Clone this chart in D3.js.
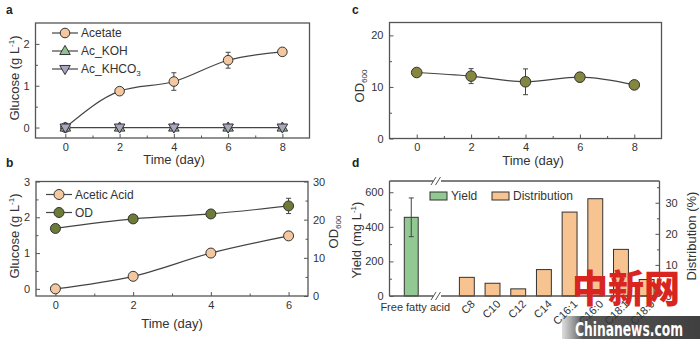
<!DOCTYPE html>
<html>
<head>
<meta charset="utf-8">
<script src="https://cdn.jsdelivr.net/npm/d3@7"></script>
<style>
body { margin: 0; background: #fff; }
svg { font-family: "Liberation Sans", Arial, Helvetica, sans-serif; display: block; }
</style>
</head>
<body>
<div id="chart"></div>
<script>
// panel a: glucose from acetate, 8 days
var daysA = [0, 2, 4, 6, 8];
var acetate = [0, 0.87, 1.1, 1.61, 1.81];
var acetateErr = [0, 0.05, 0.21, 0.19, 0.05];
var acKOH = [0, 0, 0, 0, 0];
var acKHCO3 = [0, 0, 0, 0, 0];

// panel b: acetic acid + OD, 6 days
var daysB = [0, 2, 4, 6];
var aceticAcid = [0, 0.35, 1.0, 1.48];
var aceticErr = [0.02, 0.05, 0.1, 0.1];
var odB = [17.7, 20.2, 21.5, 23.6];
var odBErr = [0.6, 0.5, 0.7, 2.0];

// panel c: OD600 over 8 days
var daysC = [0, 2, 4, 6, 8];
var odC = [12.8, 12.1, 11.0, 11.9, 10.4];
var odCErr = [0.3, 1.45, 2.5, 0.9, 0.3];

// panel d: fatty acid yield and chain distribution
var ffaLabel = ["Free fatty acid"];
var ffaYield = [455];
var ffaErr = [112];
var chains = ["C8", "C10", "C12", "C14", "C16:1", "C16:0", "C18:1", "C18:0"];
var distribution = [6.0, 4.1, 2.3, 8.5, 27.0, 31.3, 15.0, 5.3];

var axisGrey = '#555', lineGrey = '#444', txt = '#333';
var fmt = d3.format('~g');

var svg = d3.select('#chart').append('svg')
    .attr('width', 700)
    .attr('height', 339);

function addAxis(axis, tx, ty) {
    var g = svg.append('g')
        .attr('transform', 'translate(' + tx + ',' + ty + ')')
        .call(axis);
    g.attr('font-family', null).attr('font-size', 11);
    g.select('.domain').remove();
    g.selectAll('line').attr('stroke', axisGrey).attr('stroke-width', 1);
    g.selectAll('text').attr('fill', txt);
    return g;
}

function frame(x0, y0, x1, y1) {
    svg.append('rect')
        .attr('x', x0).attr('y', y0)
        .attr('width', x1 - x0).attr('height', y1 - y0)
        .attr('fill', 'none')
        .attr('stroke', axisGrey)
        .attr('stroke-width', 1.3);
}

function label(t, x, y) {
    svg.append('text').attr('x', x).attr('y', y)
        .attr('font-size', 12).attr('font-weight', 'bold').attr('fill', '#222')
        .text(t);
}

function xTitle(x, y) {
    svg.append('text').attr('x', x).attr('y', y)
        .attr('text-anchor', 'middle').attr('font-size', 13).attr('fill', txt)
        .text('Time (day)');
}

// rotated axis title; parts = [[text, 'super'|'sub'|'reset', dy], ...]
function yTitle(parts, x, y) {
    var t = svg.append('text')
        .attr('transform', 'translate(' + x + ',' + y + ') rotate(-90)')
        .attr('text-anchor', 'middle').attr('font-size', 13).attr('fill', txt);
    parts.forEach(function (p) {
        var s = t.append('tspan').text(p[0]);
        if (p[1] === 'super') s.attr('font-size', 8).attr('dy', -5);
        if (p[1] === 'sub') s.attr('font-size', 8).attr('dy', 3);
        if (p[1] === 'reset') s.attr('dy', p[2]);
    });
}

function errorBars(xs, ys, es, x, y) {
    var g = svg.append('g').attr('stroke', lineGrey).attr('stroke-width', 1);
    xs.forEach(function (d, i) {
        if (!es[i]) return;
        var cx = x(d), lo = y(ys[i] - es[i]), hi = y(ys[i] + es[i]);
        g.append('line').attr('x1', cx).attr('x2', cx).attr('y1', lo).attr('y2', hi);
        g.append('line').attr('x1', cx - 2.5).attr('x2', cx + 2.5).attr('y1', lo).attr('y2', lo);
        g.append('line').attr('x1', cx - 2.5).attr('x2', cx + 2.5).attr('y1', hi).attr('y2', hi);
    });
}

function curve(xs, ys, x, y) {
    var line = d3.line()
        .x(function (d) { return x(d[0]); })
        .y(function (d) { return y(d[1]); })
        .curve(d3.curveMonotoneX);
    svg.append('path')
        .datum(d3.zip(xs, ys))
        .attr('d', line)
        .attr('fill', 'none')
        .attr('stroke', lineGrey)
        .attr('stroke-width', 1.2);
}

function dots(xs, ys, x, y, fill, r) {
    svg.append('g').selectAll('circle')
        .data(d3.zip(xs, ys)).enter().append('circle')
        .attr('cx', function (d) { return x(d[0]); })
        .attr('cy', function (d) { return y(d[1]); })
        .attr('r', r)
        .attr('fill', fill)
        .attr('stroke', '#333')
        .attr('stroke-width', 1);
}

function tris(xs, ys, x, y, fill, down) {
    svg.append('g').selectAll('path')
        .data(d3.zip(xs, ys)).enter().append('path')
        .attr('d', d3.symbol(d3.symbolTriangle, 48))
        .attr('transform', function (d) {
            return 'translate(' + x(d[0]) + ',' + (y(d[1]) + (down ? -0.5 : 0.5)) + ')' + (down ? ' rotate(180)' : '');
        })
        .attr('fill', fill)
        .attr('stroke', '#333')
        .attr('stroke-width', 1);
}

function legendLine(x0, y0, marker, name, sub) {
    svg.append('line').attr('x1', x0).attr('x2', x0 + 26).attr('y1', y0).attr('y2', y0)
        .attr('stroke', lineGrey).attr('stroke-width', 1.2);
    marker(x0 + 13, y0);
    var t = svg.append('text').attr('x', x0 + 29).attr('y', y0).attr('dy', '0.36em')
        .attr('font-size', 12).attr('fill', txt).text(name);
    if (sub) t.append('tspan').attr('font-size', 8).attr('dy', 3).text(sub);
}

var cGlucose = '#f3c8a0', cOD = '#6c7b37', cODc = '#858740';
var cKOH = '#8fc28f', cKHCO3 = '#aaa5c0';
var cYield = '#92c992', cDist = '#f6c391';

/* ---------- a ---------- */
var xa = d3.scaleLinear().domain([-1.1, 9]).range([35.5, 309.5]);
var ya = d3.scaleLinear().domain([-0.25, 2.5]).range([138, 23]);
addAxis(d3.axisBottom(xa).tickValues([1, 3, 5, 7]).tickSize(-2.5).tickFormat(''), 0, 138);
addAxis(d3.axisBottom(xa).tickValues(daysA).tickFormat(fmt).tickSize(-4).tickSizeOuter(0).tickPadding(5), 0, 138);
addAxis(d3.axisLeft(ya).tickValues([0.5, 1.5]).tickSize(-2.5).tickFormat(''), 35.5, 0);
addAxis(d3.axisLeft(ya).tickValues([0, 1, 2]).tickFormat(fmt).tickSize(-4).tickSizeOuter(0).tickPadding(6), 35.5, 0);
frame(35.5, 23, 309.5, 138);

curve(daysA, acKOH, xa, ya);
curve(daysA, acetate, xa, ya);
errorBars(daysA, acetate, acetateErr, xa, ya);
dots(daysA, acetate, xa, ya, cGlucose, 4.8);
tris(daysA, acKOH, xa, ya, cKOH, false);
tris(daysA, acKHCO3, xa, ya, cKHCO3, true);

legendLine(52, 33, function (cx, cy) {
    svg.append('circle').attr('cx', cx).attr('cy', cy).attr('r', 4.8)
        .attr('fill', cGlucose).attr('stroke', '#333');
}, 'Acetate');
legendLine(52, 51, function (cx, cy) {
    tris([0], [0], function () { return cx; }, function () { return cy; }, cKOH, false);
}, 'Ac_KOH');
legendLine(52, 69, function (cx, cy) {
    tris([0], [0], function () { return cx; }, function () { return cy; }, cKHCO3, true);
}, 'Ac_KHCO', '3');

label('a', 6, 14);
xTitle(174, 164);
yTitle([['Glucose (g L'], ['-1', 'super'], [')', 'reset', 5]], 19, 78);

/* ---------- b ---------- */
var xb = d3.scaleLinear().domain([-0.5, 6.5]).range([36, 308]);
var ybL = d3.scaleLinear().domain([-0.2, 3]).range([296, 181.5]);
var ybR = d3.scaleLinear().domain([0, 30]).range([296, 181.5]);
addAxis(d3.axisBottom(xb).tickValues([1, 3, 5]).tickSize(-2.5).tickFormat(''), 0, 296);
addAxis(d3.axisBottom(xb).tickValues(daysB).tickFormat(fmt).tickSize(-4).tickSizeOuter(0).tickPadding(5), 0, 296);
addAxis(d3.axisLeft(ybL).tickValues([0.5, 1.5, 2.5]).tickSize(-2.5).tickFormat(''), 36, 0);
addAxis(d3.axisLeft(ybL).tickValues([0, 1, 2, 3]).tickFormat(fmt).tickSize(-4).tickSizeOuter(0).tickPadding(6), 36, 0);
addAxis(d3.axisRight(ybR).tickValues([5, 15, 25]).tickSize(-2.5).tickFormat(''), 308, 0);
addAxis(d3.axisRight(ybR).tickValues([0, 10, 20, 30]).tickFormat(fmt).tickSize(-4).tickSizeOuter(0).tickPadding(5), 308, 0);
frame(36, 181.5, 308, 296);

curve(daysB, aceticAcid, xb, ybL);
curve(daysB, odB, xb, ybR);
errorBars(daysB, aceticAcid, aceticErr, xb, ybL);
errorBars(daysB, odB, odBErr, xb, ybR);
dots(daysB, aceticAcid, xb, ybL, cGlucose, 5);
dots(daysB, odB, xb, ybR, cOD, 5);

legendLine(46, 194.5, function (cx, cy) {
    svg.append('circle').attr('cx', cx).attr('cy', cy).attr('r', 5)
        .attr('fill', cGlucose).attr('stroke', '#333');
}, 'Acetic Acid');
legendLine(46, 212.5, function (cx, cy) {
    svg.append('circle').attr('cx', cx).attr('cy', cy).attr('r', 5)
        .attr('fill', cOD).attr('stroke', '#333');
}, 'OD');

label('b', 6, 167);
xTitle(172, 328);
yTitle([['Glucose (g L'], ['-1', 'super'], [')', 'reset', 5]], 19, 236);
yTitle([['OD'], ['600', 'sub']], 338, 232);

/* ---------- c ---------- */
var xc = d3.scaleLinear().domain([-1, 9]).range([389.5, 661.5]);
var yc = d3.scaleLinear().domain([0, 22.5]).range([138.5, 22.5]);
addAxis(d3.axisBottom(xc).tickValues([1, 3, 5, 7]).tickSize(-2.5).tickFormat(''), 0, 138.5);
addAxis(d3.axisBottom(xc).tickValues(daysC).tickFormat(fmt).tickSize(-4).tickSizeOuter(0).tickPadding(5), 0, 138.5);
addAxis(d3.axisLeft(yc).tickValues([5, 15]).tickSize(-2.5).tickFormat(''), 389.5, 0);
addAxis(d3.axisLeft(yc).tickValues([0, 10, 20]).tickFormat(fmt).tickSize(-4).tickSizeOuter(0).tickPadding(6), 389.5, 0);
frame(389.5, 22.5, 661.5, 138.5);

curve(daysC, odC, xc, yc);
errorBars(daysC, odC, odCErr, xc, yc);
dots(daysC, odC, xc, yc, cODc, 5.3);

label('c', 352, 14);
xTitle(533, 164.5);
yTitle([['OD'], ['600', 'sub']], 364, 86);

/* ---------- d ---------- */
var xdF = d3.scaleBand().domain(ffaLabel).range([389.5, 433]).paddingInner(0.68).paddingOuter(0.34);
var xdC = d3.scaleBand().domain(chains).range([454, 659.5]).paddingInner(0.42).paddingOuter(0.21);
var ydL = d3.scaleLinear().domain([0, 665]).range([296, 181]);
var ydR = d3.scaleLinear().domain([0, 37]).range([296, 181]);

addAxis(d3.axisLeft(ydL).tickValues([100, 300, 500]).tickSize(-2.5).tickFormat(''), 389.5, 0);
addAxis(d3.axisLeft(ydL).tickValues([0, 200, 400, 600]).tickFormat(fmt).tickSize(-4).tickSizeOuter(0).tickPadding(6), 389.5, 0);
addAxis(d3.axisRight(ydR).tickValues([5, 15, 25, 35]).tickSize(-2.5).tickFormat(''), 659.5, 0);
addAxis(d3.axisRight(ydR).tickValues([0, 10, 20, 30]).tickFormat(fmt).tickSize(-4).tickSizeOuter(0).tickPadding(6), 659.5, 0);

// bars
svg.append('g').selectAll('rect')
    .data(d3.zip(ffaLabel, ffaYield)).enter().append('rect')
    .attr('x', function (d) { return xdF(d[0]); })
    .attr('y', function (d) { return ydL(d[1]); })
    .attr('width', xdF.bandwidth())
    .attr('height', function (d) { return ydL(0) - ydL(d[1]); })
    .attr('fill', cYield).attr('stroke', '#333').attr('stroke-width', 1);
errorBars(ffaLabel, ffaYield, ffaErr, function (d) { return xdF(d) + xdF.bandwidth() / 2; }, ydL);

svg.append('g').selectAll('rect')
    .data(d3.zip(chains, distribution)).enter().append('rect')
    .attr('x', function (d) { return xdC(d[0]); })
    .attr('y', function (d) { return ydR(d[1]); })
    .attr('width', xdC.bandwidth())
    .attr('height', function (d) { return ydR(0) - ydR(d[1]); })
    .attr('fill', cDist).attr('stroke', '#333').attr('stroke-width', 1);

// frame with axis break
var fr = svg.append('g').attr('stroke', axisGrey).attr('stroke-width', 1.3).attr('fill', 'none');
[181, 296].forEach(function (yy) {
    fr.append('line').attr('x1', 389.5).attr('x2', 433.5).attr('y1', yy).attr('y2', yy);
    fr.append('line').attr('x1', 441).attr('x2', 659.5).attr('y1', yy).attr('y2', yy);
    fr.append('line').attr('x1', 431).attr('x2', 436).attr('y1', yy + 4).attr('y2', yy - 4).attr('stroke-width', 1);
    fr.append('line').attr('x1', 435.5).attr('x2', 440.5).attr('y1', yy + 4).attr('y2', yy - 4).attr('stroke-width', 1);
});
fr.append('line').attr('x1', 389.5).attr('x2', 389.5).attr('y1', 181).attr('y2', 296);
fr.append('line').attr('x1', 659.5).attr('x2', 659.5).attr('y1', 181).attr('y2', 296);

// category labels
svg.append('text')
    .attr('x', xdF(ffaLabel[0]) + xdF.bandwidth() / 2 + 4).attr('y', 311)
    .attr('text-anchor', 'middle').attr('font-size', 11).attr('fill', txt)
    .text(ffaLabel[0]);
svg.append('g').selectAll('text')
    .data(chains).enter().append('text')
    .attr('transform', function (d) {
        return 'translate(' + (xdC(d) + xdC.bandwidth() / 2 + 6) + ',302) rotate(-45)';
    })
    .attr('text-anchor', 'end').attr('dy', '0.35em')
    .attr('font-size', 11).attr('fill', txt)
    .text(function (d) { return d; });

// legend
svg.append('rect').attr('x', 430).attr('y', 192).attr('width', 17).attr('height', 8)
    .attr('fill', cYield).attr('stroke', '#333');
svg.append('text').attr('x', 451).attr('y', 196).attr('dy', '0.36em')
    .attr('font-size', 12).attr('fill', txt).text('Yield');
svg.append('rect').attr('x', 492).attr('y', 192).attr('width', 17).attr('height', 8)
    .attr('fill', cDist).attr('stroke', '#333');
svg.append('text').attr('x', 513).attr('y', 196).attr('dy', '0.36em')
    .attr('font-size', 12).attr('fill', txt).text('Distribution');

label('d', 352, 167);
yTitle([['Yield (mg L'], ['-1', 'super'], [')', 'reset', 5]], 361, 240);
yTitle([['Distribution (%)']], 696, 236);

/* ---------- site mark ---------- */
var wm = svg.append('g');
var grad = svg.append('defs').append('linearGradient').attr('id', 'wmg')
    .attr('x1', 0).attr('x2', 1).attr('y1', 0).attr('y2', 0);
grad.append('stop').attr('offset', 0).attr('stop-color', '#555').attr('stop-opacity', 0.2);
grad.append('stop').attr('offset', 0.15).attr('stop-color', '#3a3a3a').attr('stop-opacity', 0.85);
grad.append('stop').attr('offset', 1).attr('stop-color', '#2a2a2a').attr('stop-opacity', 0.9);
wm.append('rect').attr('x', 562).attr('y', 316).attr('width', 138).attr('height', 23).attr('fill', 'url(#wmg)');
wm.append('text').attr('x', 575).attr('y', 336)
    .attr('font-family', '"DejaVu Sans Condensed", "DejaVu Sans", sans-serif')
    .attr('font-weight', 'bold').attr('font-size', 19).attr('fill', '#fff')
    .attr('textLength', 108).attr('lengthAdjust', 'spacingAndGlyphs')
    .text('Chinanews.com');
wm.append('text').attr('x', 572).attr('y', 302)
    .attr('font-family', '"Noto Sans CJK SC", sans-serif')
    .attr('font-weight', 900).attr('font-size', 38).attr('fill', '#d8251f')
    .attr('textLength', 108).attr('lengthAdjust', 'spacingAndGlyphs')
    .text('中新网');
</script>
</body>
</html>
